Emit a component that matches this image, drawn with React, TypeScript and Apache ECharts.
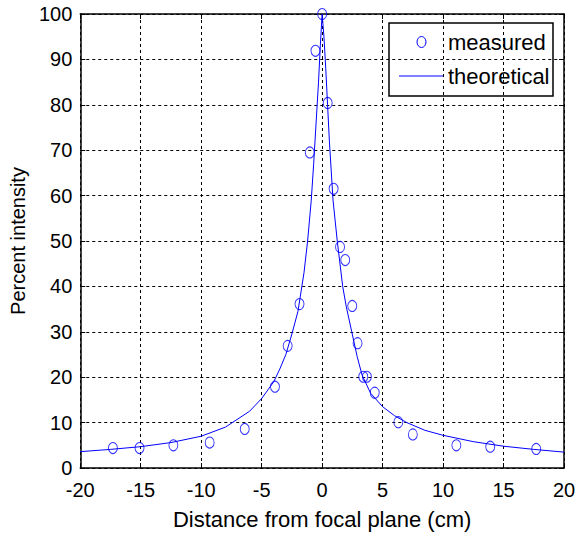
import React, { useEffect, useRef } from "react";
import * as echarts from "echarts";

const measuredX = [-17.3, -15.1, -12.3, -9.3, -6.4, -3.9, -2.85, -1.87, -1.02, -0.55, 0, 0.46, 0.95, 1.48, 1.91, 2.49, 2.93, 3.4, 3.7, 4.35, 6.3, 7.5, 11.1, 13.9, 17.7];
const measuredY = [4.4, 4.4, 5.0, 5.6, 8.6, 17.9, 26.9, 36.1, 69.5, 91.9, 100, 80.4, 61.5, 48.7, 45.8, 35.7, 27.5, 20.1, 20.1, 16.6, 10.1, 7.4, 5.0, 4.7, 4.2];

const theoryX = [-20, -17.5, -15, -12.5, -10, -8, -6, -5, -4, -3.5, -3, -2.5, -2, -1.5, -1.2, -0.9, -0.7, -0.5, -0.3, -0.15, 0, 0.15, 0.3, 0.45, 0.6, 0.9, 1.25, 1.7, 2.0, 2.45, 2.9, 3.3, 4, 5, 6, 7, 8.5, 10, 12.5, 15, 17.5, 20];
const theoryY = [3.6, 4.1, 4.7, 5.6, 7.0, 9.0, 12.5, 15.3, 19.0, 21.8, 25.0, 29.5, 34.5, 43, 50, 59, 67, 76, 85, 93, 100, 95, 88, 80, 72, 59, 50, 40, 35.5, 30, 24.5, 20.5, 16.5, 13.5, 11.5, 10.0, 8.3, 7.2, 5.8, 4.8, 4.1, 3.5];

const legendLabels = ["measured", "theoretical"];

const font = "'Liberation Sans', Arial, Helvetica, sans-serif";
const blue = "#0000ff";

export default function App() {
  const ref = useRef<HTMLDivElement>(null);
  useEffect(() => {
    const chart = echarts.init(ref.current!, null, { renderer: "svg" });
    const split = { show: true, lineStyle: { color: "#000", type: [3, 3] as any, width: 1 } };
    const frameLine = { show: true, onZero: false, lineStyle: { color: "#000", width: 1.5 } };
    const tick = { show: true, inside: true, length: 5, lineStyle: { color: "#000" } };
    chart.setOption({
      animation: false,
      backgroundColor: "#fff",
      textStyle: { fontFamily: font },
      grid: { left: 77, right: 15, top: 14, bottom: 68 },
      xAxis: [
        {
          type: "value",
          min: -20,
          max: 20,
          interval: 5,
          name: "Distance from focal plane (cm)",
          nameLocation: "middle",
          nameGap: 40,
          nameTextStyle: { fontSize: 22, color: "#000", fontFamily: font },
          axisLine: frameLine,
          axisTick: tick,
          axisLabel: { fontSize: 20, color: "#000", margin: 12, fontFamily: font },
          splitLine: split,
        },
        {
          type: "value",
          position: "top",
          min: -20,
          max: 20,
          interval: 5,
          axisLine: frameLine,
          axisTick: tick,
          axisLabel: { show: false },
          splitLine: { show: false },
        },
      ],
      yAxis: [
        {
          type: "value",
          min: 0,
          max: 100,
          interval: 10,
          name: "Percent intensity",
          nameLocation: "middle",
          nameGap: 47,
          nameTextStyle: { fontSize: 20, color: "#000", fontFamily: font },
          axisLine: frameLine,
          axisTick: tick,
          axisLabel: { fontSize: 20, color: "#000", margin: 8, fontFamily: font },
          splitLine: split,
        },
        {
          type: "value",
          position: "right",
          min: 0,
          max: 100,
          interval: 10,
          axisLine: frameLine,
          axisTick: tick,
          axisLabel: { show: false },
          splitLine: { show: false },
        },
      ],
      graphic: [
        {
          type: "group",
          z: 100,
          children: [
            {
              type: "rect",
              shape: { x: 389, y: 23, width: 164, height: 73 },
              style: { fill: "#fff", stroke: "#000", lineWidth: 1.5 },
            },
            {
              type: "ellipse",
              shape: { cx: 421.5, cy: 42, rx: 4.5, ry: 5.5 },
              style: { fill: "none", stroke: blue, lineWidth: 1 },
            },
            {
              type: "line",
              shape: { x1: 399, y1: 76, x2: 444, y2: 76 },
              style: { stroke: blue, lineWidth: 1 },
            },
            {
              type: "text",
              x: 448,
              y: 42,
              style: { text: legendLabels[0], fontSize: 22, fill: "#000", fontFamily: font, verticalAlign: "middle", align: "left" },
            },
            {
              type: "text",
              x: 448,
              y: 76,
              style: { text: legendLabels[1], fontSize: 22, fill: "#000", fontFamily: font, verticalAlign: "middle", align: "left" },
            },
          ],
        },
      ],
      series: [
        {
          name: "theoretical",
          type: "line",
          data: theoryX.map((x, i) => [x, theoryY[i]]),
          showSymbol: false,
          symbol: "none",
          smooth: false,
          lineStyle: { color: blue, width: 1 },
          z: 3,
        },
        {
          name: "measured",
          type: "scatter",
          data: measuredX.map((x, i) => [x, measuredY[i]]),
          symbol: "circle",
          symbolSize: [9, 11],
          itemStyle: { color: "rgba(0,0,0,0)", borderColor: blue, borderWidth: 1 },
          z: 4,
        },
      ],
    });
    return () => chart.dispose();
  }, []);
  return <div ref={ref} style={{ position: "absolute", left: 0, top: 0, width: 579, height: 536 }} />;
}
